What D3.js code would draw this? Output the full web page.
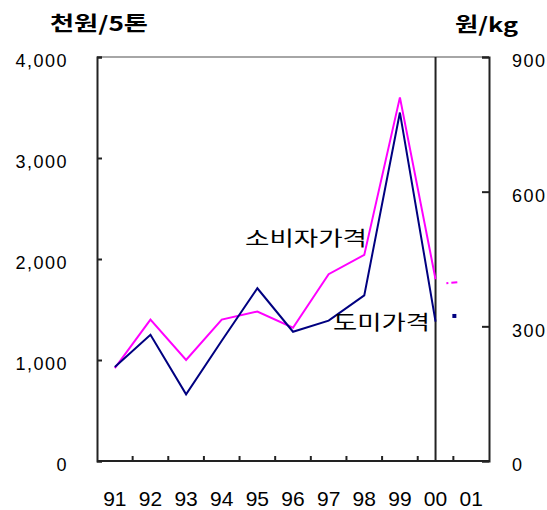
<!DOCTYPE html>
<html><head><meta charset="utf-8">
<script src="https://cdn.jsdelivr.net/npm/d3@7"></script>
<style>
body{margin:0;background:#fff;}
svg{display:block;}
text{fill:#000;}
</style></head>
<body>
<svg id="c" width="547" height="510"></svg>
<script>
const years = ["91","92","93","94","95","96","97","98","99","00","01"];
const consumerPrice = [920, 1400, 1000, 1400, 1480, 1320, 1850, 2040, 3600, 1800, null];
const wholesalePrice = [930, 1250, 660, 1190, 1710, 1280, 1390, 1640, 3450, 1380, null];
const consumer2001 = 1760;
const wholesale2001 = 1436;
const leftTicks = [0, 1000, 2000, 3000, 4000];
const rightTicks = [0, 300, 600, 900];
const leftTitle = "천원/5톤";
const rightTitle = "원/kg";
const consumerLabel = "소비자가격";
const wholesaleLabel = "도미가격";

const svg = d3.select("#c");
const L = 97, R = 489, T = 57, B = 461;
const x = d3.scaleBand().domain(years).range([L, R]).padding(0);
const y = d3.scaleLinear().domain([0, 4000]).range([B, T]);
const y2 = d3.scaleLinear().domain([0, 900]).range([B, T]);
const cx = d => x(d) + x.bandwidth() / 2;
const numFmt = d3.format(",");
const numFont = "'Liberation Sans', Arial, sans-serif";
const krFont = "'Noto Sans CJK KR', sans-serif";

// top border
svg.append("line").attr("x1", L).attr("x2", R).attr("y1", T).attr("y2", T)
  .attr("stroke", "#888").attr("stroke-width", 1.5);

// left axis
const gl = svg.append("g").attr("transform", `translate(${L},0)`)
  .call(d3.axisLeft(y).tickValues(leftTicks).tickSize(-5).tickFormat(numFmt).tickPadding(29));
gl.select(".domain").attr("stroke", "#222").attr("stroke-width", 2);
gl.selectAll(".tick line").attr("stroke", "#222").attr("stroke-width", 2);
gl.selectAll(".tick text").attr("font-family", numFont).attr("font-size", 18)
  .attr("letter-spacing", "1.5px").attr("dy", "0.55em");

// right axis
const gr = svg.append("g").attr("transform", `translate(${R},0)`)
  .call(d3.axisRight(y2).tickValues(rightTicks).tickSize(-7).tickPadding(23));
gr.select(".domain").attr("stroke", "#222").attr("stroke-width", 2);
gr.selectAll(".tick line").attr("stroke", "#222").attr("stroke-width", 2);
gr.selectAll(".tick text").attr("font-family", numFont).attr("font-size", 18)
  .attr("letter-spacing", "1.5px").attr("dy", "0.55em");

// bottom axis: ticks at category boundaries
const gb = svg.append("g").attr("transform", `translate(0,${B})`);
gb.append("line").attr("x1", L).attr("x2", R).attr("stroke", "#222").attr("stroke-width", 2);
gb.selectAll("line.tk").data(years.slice(1)).join("line").attr("class", "tk")
  .attr("x1", d => x(d)).attr("x2", d => x(d)).attr("y1", 0).attr("y2", -5)
  .attr("stroke", "#222").attr("stroke-width", 2);
gb.selectAll("text").data(years).join("text")
  .attr("x", d => cx(d)).attr("y", 45).attr("text-anchor", "middle")
  .attr("font-family", numFont).attr("font-size", 21)
  .text(d => d);

// vertical divider at 00
svg.append("line").attr("x1", cx("00")).attr("x2", cx("00")).attr("y1", T).attr("y2", B)
  .attr("stroke", "#222").attr("stroke-width", 2);

// lines
const line = d3.line().defined(d => d[1] != null).x(d => cx(d[0])).y(d => y(d[1]));
svg.append("path").datum(years.map((d, i) => [d, consumerPrice[i]]))
  .attr("d", line).attr("fill", "none").attr("stroke", "#ff00ff").attr("stroke-width", 2);
svg.append("path").datum(years.map((d, i) => [d, wholesalePrice[i]]))
  .attr("d", line).attr("fill", "none").attr("stroke", "#000080").attr("stroke-width", 2);

// 2001 partial markers (at boundary between 00 and 01)
const xb = x("01");
svg.append("line").attr("x1", xb - 7).attr("x2", xb + 4)
  .attr("y1", y(consumer2001)).attr("y2", y(consumer2001) - 1)
  .attr("stroke", "#ff00ff").attr("stroke-width", 2).attr("stroke-dasharray", "2,3,6");
svg.append("rect").attr("x", xb - 1).attr("y", y(wholesale2001) - 2).attr("width", 4).attr("height", 4)
  .attr("fill", "#000080");

// titles
svg.append("text").attr("x", 50).attr("y", 31).attr("font-family", krFont).attr("font-size", 20)
  .attr("font-weight", "bold").attr("textLength", 98).attr("lengthAdjust", "spacingAndGlyphs").text(leftTitle);
svg.append("text").attr("x", 455).attr("y", 32).attr("font-family", krFont).attr("font-size", 20)
  .attr("font-weight", "bold").attr("textLength", 63).attr("lengthAdjust", "spacingAndGlyphs").text(rightTitle);

// series labels
svg.append("text").attr("x", 245).attr("y", 246).attr("font-family", krFont).attr("font-size", 20)
  .attr("textLength", 122).attr("lengthAdjust", "spacingAndGlyphs").text(consumerLabel);
svg.append("text").attr("x", 333).attr("y", 330).attr("font-family", krFont).attr("font-size", 20)
  .attr("textLength", 97).attr("lengthAdjust", "spacingAndGlyphs").text(wholesaleLabel);
</script>
</body></html>
